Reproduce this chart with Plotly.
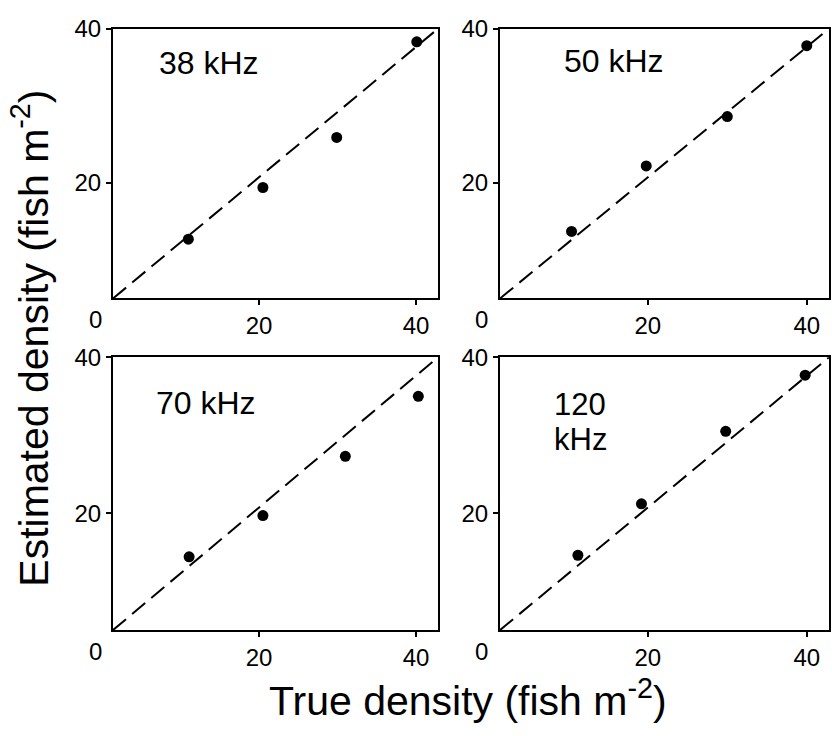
import plotly.graph_objects as go

# ---- data ----
panel_labels = ["38 kHz", "50 kHz", "70 kHz", "120 kHz"]

true_38 = [11.0, 20.5, 29.9, 40.1]
est_38 = [12.7, 19.4, 25.9, 38.3]

true_50 = [10.4, 19.8, 30.0, 40.0]
est_50 = [13.7, 22.2, 28.6, 37.8]

true_70 = [11.1, 20.5, 31.0, 40.3]
est_70 = [14.4, 19.7, 27.3, 35.0]

true_120 = [11.2, 19.2, 29.8, 39.8]
est_120 = [14.6, 21.2, 30.5, 37.7]

x_ticks = [20, 40]
y_ticks = [20, 40]
x_range = [1.4, 42.8]
y_range = [5, 40]

FONT = "Liberation Sans, Arial, Helvetica, sans-serif"

series = [(true_38, est_38), (true_50, est_50), (true_70, est_70), (true_120, est_120)]
x_domains = [[0.1358, 0.5264], [0.601, 0.9964], [0.1358, 0.5264], [0.601, 0.9964]]
y_domains = [[0.606, 0.9796], [0.606, 0.9796], [0.1467, 0.5245], [0.1467, 0.5245]]

fig = go.Figure()
for i, (xs, ys) in enumerate(series):
    n = "" if i == 0 else str(i + 1)
    # 1:1 reference line spanning the plotting box
    fig.add_trace(go.Scatter(
        x=x_range, y=y_range, mode="lines",
        line=dict(color="black", width=2, dash="17px,8px"),
        xaxis="x" + n, yaxis="y" + n, showlegend=False, hoverinfo="skip"))
    fig.add_trace(go.Scatter(
        x=xs, y=ys, mode="markers",
        marker=dict(color="black", size=11),
        xaxis="x" + n, yaxis="y" + n, showlegend=False, cliponaxis=False))

axis_common = dict(
    showgrid=False, zeroline=False, showline=True, linecolor="black", linewidth=2,
    mirror=True, ticks="outside", ticklen=5, tickwidth=2, tickcolor="black",
    tickfont=dict(family=FONT, size=24, color="black"),
)

layout = dict(
    width=832, height=736,
    margin=dict(l=0, r=0, t=0, b=0),
    paper_bgcolor="white", plot_bgcolor="white",
    font=dict(family=FONT, color="black"),
    showlegend=False,
)
for i in range(4):
    n = "" if i == 0 else str(i + 1)
    layout["xaxis" + n] = dict(
        axis_common, domain=x_domains[i], range=x_range, tickvals=x_ticks,
        anchor="y" + n)
    layout["yaxis" + n] = dict(
        axis_common, domain=y_domains[i], range=y_range, tickvals=y_ticks,
        anchor="x" + n)
fig.update_layout(**layout)

# panel labels
label_pos = [(0.135, 0.873), (0.1875, 0.879), (0.126, 0.831), (0.157, 0.827)]
for i, lab in enumerate(panel_labels):
    n = "" if i == 0 else str(i + 1)
    lx, ly = label_pos[i]
    if i == 3:
        parts = lab.split(" ")
        fig.add_annotation(text=parts[0], xref="x" + n + " domain", yref="y" + n + " domain",
                           x=lx, y=ly, xanchor="left", yanchor="middle", showarrow=False,
                           font=dict(family=FONT, size=31, color="black"))
        fig.add_annotation(text=parts[1], xref="x" + n + " domain", yref="y" + n + " domain",
                           x=lx, y=0.700, xanchor="left", yanchor="middle", showarrow=False,
                           font=dict(family=FONT, size=31, color="black"))
    else:
        fig.add_annotation(text=lab, xref="x" + n + " domain", yref="y" + n + " domain",
                           x=lx, y=ly, xanchor="left", yanchor="middle", showarrow=False,
                           font=dict(family=FONT, size=32, color="black"))
    # corner "0" label
    fig.add_annotation(text="0", xref="x" + n + " domain", yref="y" + n + " domain",
                       x=-0.055, y=-0.078, xanchor="center", yanchor="middle", showarrow=False,
                       font=dict(family=FONT, size=24, color="black"))

# axis titles
fig.add_annotation(text="True density (fish m<sup>-2</sup>)", xref="paper", yref="paper",
                   x=0.563, y=1 - 697 / 736, xanchor="center", yanchor="middle", showarrow=False,
                   font=dict(family=FONT, size=41, color="black"))
fig.add_annotation(text="Estimated density (fish m<sup>-2</sup>)", xref="paper", yref="paper",
                   x=30 / 832, y=1 - 331 / 736, xanchor="center", yanchor="middle", showarrow=False,
                   textangle=-90, font=dict(family=FONT, size=41, color="black"))

fig.write_html("out.html")
